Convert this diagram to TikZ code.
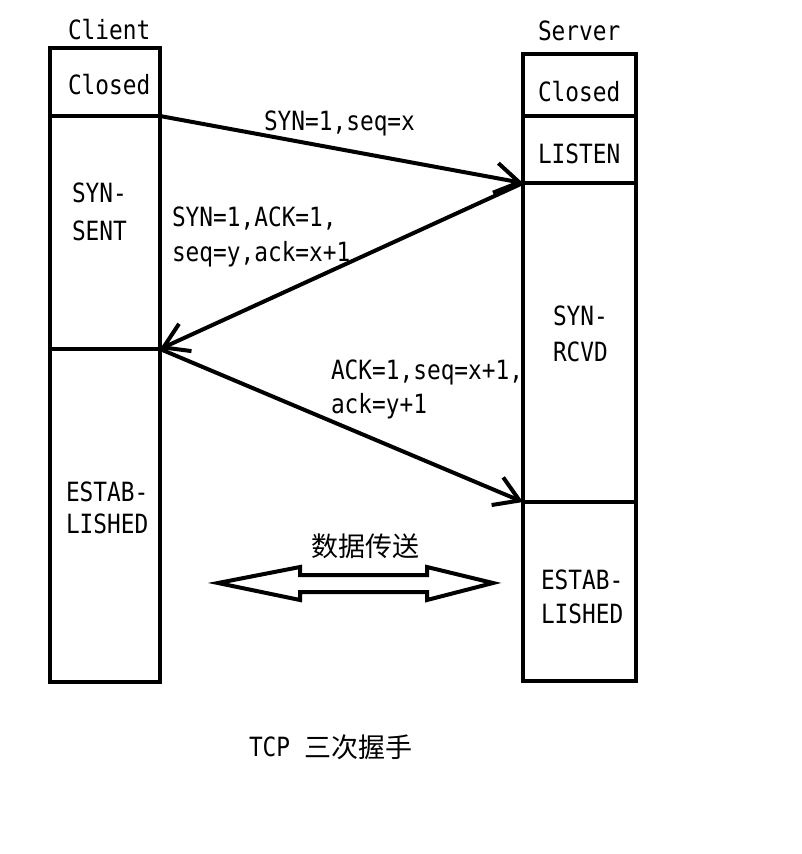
\documentclass[tikz,border=0pt]{standalone}
\usepackage{fontspec}
\usetikzlibrary{arrows.meta}
\newfontfamily\mono[FakeStretch=0.86]{DejaVu Sans Mono}
\newfontfamily\cjk{Noto Sans CJK SC}
\begin{document}
\begin{tikzpicture}[x=1pt,y=-1pt,line width=4pt,
  lbl/.style={anchor=base west,inner sep=0pt,font=\mono\fontsize{26.5}{30}\selectfont},
  cn/.style={anchor=base west,inner sep=0pt,font=\cjk\fontsize{27}{30}\selectfont},
  msg/.style={line width=4pt,-{Straight Barb[length=24pt,width=30pt,line width=4pt]}},
  box/.style={draw,line width=4pt},
  fat/.style={draw,line width=4pt,line join=miter}]
\useasboundingbox (0,0) rectangle (801,854);

% client column
\draw[box] (50,48) rectangle (160,682);
\draw (50,116) -- (160,116);
\draw (50,349) -- (160,349);

% server column
\draw[box] (523,54) rectangle (636,681);
\draw (523,116) -- (638,116);
\draw (523,183) -- (638,183);
\draw (523,502) -- (638,502);

% connector end points
\coordinate (cA) at (160,116);
\coordinate (sB) at (523,183);
\coordinate (cC) at (160,349);
\coordinate (sD) at (523,502);

\draw[msg] (cA) -- (sB);
\draw[msg] (sB) -- (cC);
\draw[msg] (cC) -- (sD);

% data transfer double arrow
\draw[fat] (218,583) -- (300,567) -- (300,575) -- (427,575) -- (427,567)
  -- (493,583) -- (427,600) -- (427,592) -- (300,592) -- (300,600) -- cycle;

% labels
\node[lbl] (tclient) at (66,39) {Client};
\node[lbl] (tclosedL) at (66,94) {Closed};
\node[lbl] (tsyn1) at (70,202) {SYN-};
\node[lbl] (tsent) at (70,240) {SENT};
\node[lbl] (test1) at (64,501) {ESTAB-};
\node[lbl] (tlish1) at (64,533) {LISHED};

\node[lbl] (tserver) at (536,40) {Server};
\node[lbl] (tclosedR) at (536,101) {Closed};
\node[lbl] (tlisten) at (536,163) {LISTEN};
\node[lbl] (tsyn2) at (551,325) {SYN-};
\node[lbl] (trcvd) at (551,361) {RCVD};
\node[lbl] (test2) at (539,589) {ESTAB-};
\node[lbl] (tlish2) at (539,623) {LISHED};

\node[lbl] (m1) at (262,130) {SYN=1,seq=x};
\node[lbl] (m2a) at (170,226) {SYN=1,ACK=1,};
\node[lbl] (m2b) at (170,261) {seq=y,ack=x+1};
\node[lbl] (m3a) at (329,379) {ACK=1,seq=x+1,};
\node[lbl] (m3b) at (329,413) {ack=y+1};

\node[cn] (data) at (309,556) {数据传送};
\node[lbl] (ttcp) at (247,756) {TCP};
\node[cn] (ttitle) at (302,757) {三次握手};
\end{tikzpicture}
\end{document}
